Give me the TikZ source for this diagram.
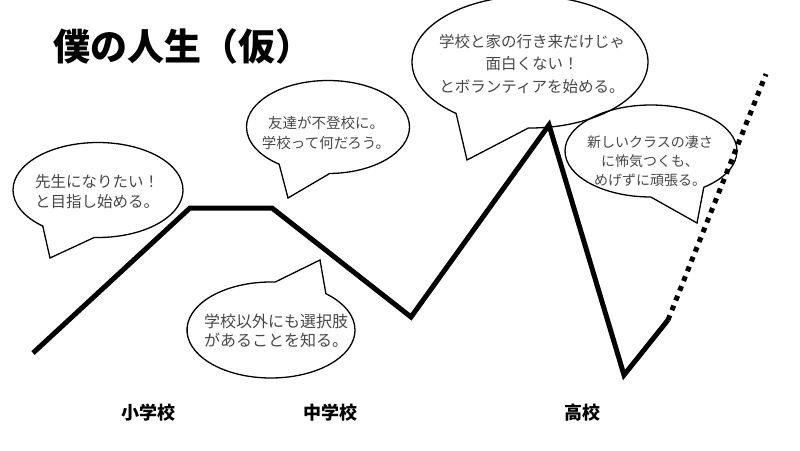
\documentclass[tikz,border=0pt]{standalone}
\usepackage{fontspec}
\newfontfamily\jp{Noto Sans CJK JP}
\usetikzlibrary{shapes.callouts}

\begin{document}
\begin{tikzpicture}[x=1pt, y=-1pt,
  bubble/.style={ellipse callout, draw, line width=1.3pt, inner sep=0pt,
    callout pointer arc=38},
  say/.style={align=center, text=black!72, inner sep=0pt},
  life/.style={line width=5pt},
  future/.style={line width=5pt, dash pattern=on 5pt off 5.5pt},
  stage/.style={font={\jp\bfseries\fontsize{18}{20}\selectfont}}
]
\useasboundingbox (0,0) rectangle (800,450);

\node[font={\jp\bfseries\fontsize{37}{40}\selectfont}] (title) at (183,46) {僕の人生（仮）};

% life line
\coordinate (p0) at (33,353);
\coordinate (p1) at (190,208);
\coordinate (p2) at (272,208);
\coordinate (p3) at (411,317);
\coordinate (p4) at (549,125);
\coordinate (p5) at (624,375);
\coordinate (p6) at (668,320);
\coordinate (p7) at (766,74);
\draw[life] (p0) -- (p1) -- (p2) -- (p3) -- (p4) -- (p5) -- (p6);
\draw[future] (p6) -- (p7);

% bubbles
\coordinate (t1) at (50,258);
\coordinate (t2) at (288,198);
\coordinate (t3) at (467,160);
\coordinate (t4) at (697,223);
\coordinate (t5) at (320,260);

\node[bubble, minimum width=170pt, minimum height=95pt,
  callout absolute pointer=(t1)] (dream) at (98,190) {};
\node[say, font={\jp\fontsize{15.5}{20}\selectfont}] (dreamtxt) at (97,192)
  {先生になりたい！\\と目指し始める。};

\node[bubble, minimum width=163pt, minimum height=93pt,
  callout absolute pointer=(t2)] (friend) at (328,127) {};
\node[say, font={\jp\fontsize{14.5}{20}\selectfont}] (friendtxt) at (326,133)
  {友達が不登校に。\\学校って何だろう。};

\node[bubble, minimum width=236pt, minimum height=132pt,
  callout absolute pointer=(t3)] (volunteer) at (530,62) {};
\node[say, font={\jp\fontsize{15.5}{22.5}\selectfont}] (volunteertxt) at (532,64)
  {学校と家の行き来だけじゃ\\面白くない！\\とボランティアを始める。};

\node[bubble, minimum width=172pt, minimum height=92pt,
  callout absolute pointer=(t4)] (newclass) at (651,151) {};
\node[say, font={\jp\fontsize{14}{19}\selectfont}] (newclasstxt) at (650,161)
  {新しいクラスの凄さ\\に怖気つくも、\\めげずに頑張る。};

\node[bubble, minimum width=168pt, minimum height=96pt,
  callout absolute pointer=(t5)] (choice) at (271,330) {};
\node[say, font={\jp\fontsize{16}{19}\selectfont}] (choicetxt) at (276,331)
  {学校以外にも選択肢\\があることを知る。};

% stages
\node[stage] (elem) at (148,413) {小学校};
\node[stage] (junior) at (330,413) {中学校};
\node[stage] (high) at (582,413) {高校};
\end{tikzpicture}
\end{document}
